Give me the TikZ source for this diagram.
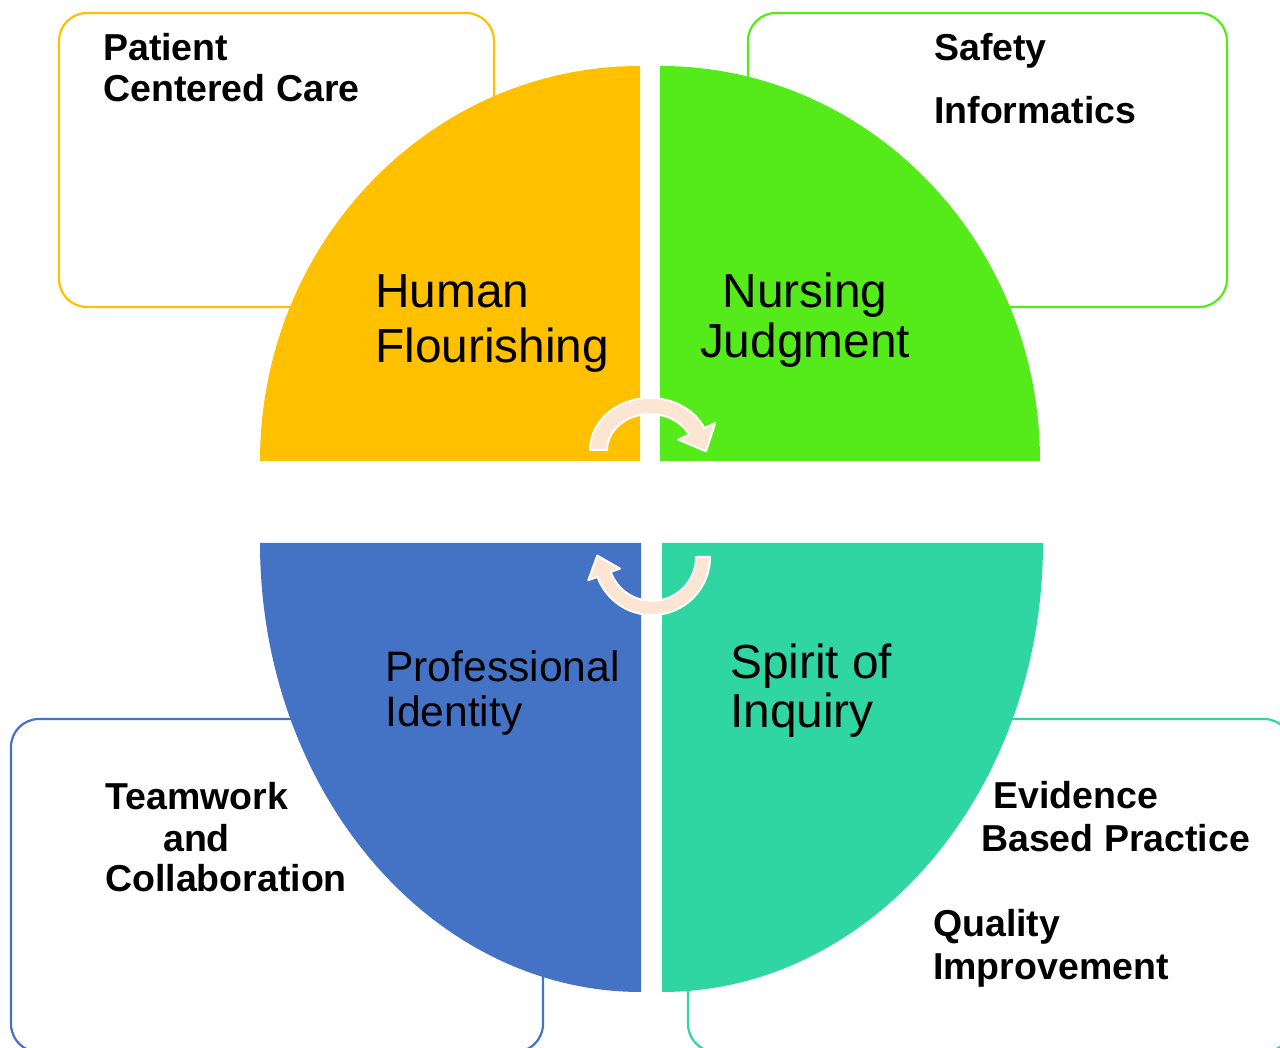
\documentclass[tikz,border=0pt]{standalone}
\usepackage{fontspec}
\setmainfont{Liberation Sans}
\definecolor{cOr}{HTML}{FFC000}
\definecolor{cGr}{HTML}{55EA1A}
\definecolor{cBl}{HTML}{4472C4}
\definecolor{cTe}{HTML}{30D6A2}
\definecolor{cPe}{HTML}{FCE5D2}
\begin{document}
\begin{tikzpicture}[x=1pt,y=1pt,
 box/.style={rounded corners=28pt, line width=2.2pt},
 lbl/.style={font=\fontsize{37.5}{41}\selectfont\bfseries, anchor=base west, inner sep=0pt},
 big/.style={font=\fontsize{47.8}{55}\selectfont, anchor=base west, inner sep=0pt},
 mid/.style={font=\fontsize{42.6}{45}\selectfont, anchor=base west, inner sep=0pt},
 arr/.style={fill=cPe, draw=white, line width=2pt, line join=round}]
\useasboundingbox (0,0) rectangle (1280,1048);
\clip (0,0) rectangle (1280,1048);
% boxes
\draw[box, draw=cOr] (59,741) rectangle (494,1035);
\draw[box, draw=cGr] (748,741) rectangle (1227,1035);
\draw[box, draw=cBl] (11,-4) rectangle (543,329);
\draw[box, draw=cTe] (688,-4) rectangle (1292,329);
% quadrants
\fill[cOr] (640,587) -- (260,587) arc[start angle=180, end angle=90, x radius=380pt, y radius=395pt] -- cycle;
\fill[cGr] (660,587) -- (660,982) arc[start angle=90, end angle=0, x radius=380pt, y radius=395pt] -- cycle;
\fill[cBl] (641,505) -- (260,505) arc[start angle=180, end angle=270, x radius=381pt, y radius=449pt] -- cycle;
\fill[cTe] (662,505) -- (662,56) arc[start angle=270, end angle=360, x radius=381pt, y radius=449pt] -- cycle;
% circular arrows
\draw[arr] (590,598) arc[start angle=180, end angle=25, x radius=60pt, y radius=52pt]
  -- (715.2,624.8) -- (706,596.7) -- (678.2,608.4) -- (688.97,613.21)
  arc[start angle=25, end angle=180, x radius=43pt, y radius=36pt] -- cycle;
\draw[arr] (710,491) arc[start angle=0, end angle=-160, radius=58pt]
  -- (588.3,467.8) -- (597.3,492.4) -- (619.9,479.4) -- (610.7,476)
  arc[start angle=-160, end angle=0, radius=44pt] -- cycle;
% texts
\node[lbl] (pcc1) at (103,987) {Patient};
\node[lbl] (pcc2) at (103,946) {Centered Care};
\node[lbl] (saf) at (934,987) {Safety};
\node[lbl] (inf) at (934,924) {Informatics};
\node[big] (hf1) at (375,740) {Human};
\node[big] (hf2) at (375,685) {Flourishing};
\node[big, anchor=base] (nj1) at (805,740) {Nursing};
\node[big, anchor=base] (nj2) at (805,690) {Judgment};
\node[mid] (pi1) at (385,366) {Professional};
\node[mid] (pi2) at (385,321) {Identity};
\node[big] (si1) at (730,369) {Spirit of};
\node[big] (si2) at (730,320) {Inquiry};
\node[lbl] (tc1) at (105,238) {Teamwork};
\node[lbl] (tc2) at (163,196) {and};
\node[lbl] (tc3) at (105,156) {Collaboration};
\node[lbl] (eb1) at (993,239) {Evidence};
\node[lbl] (eb2) at (981,196) {Based Practice};
\node[lbl] (qi1) at (933,111) {Quality};
\node[lbl] (qi2) at (933,68) {Improvement};
\end{tikzpicture}
\end{document}
